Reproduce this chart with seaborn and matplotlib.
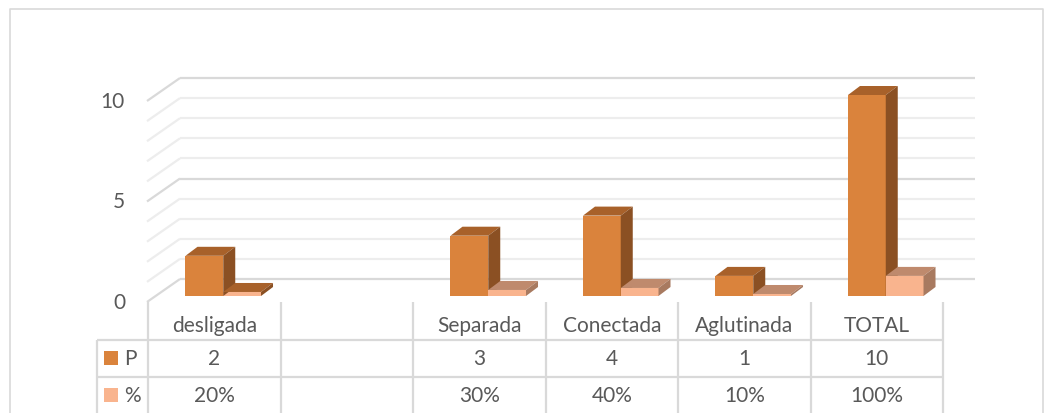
import numpy as np
import pandas as pd
import matplotlib.pyplot as plt
from matplotlib.patches import Polygon, Rectangle
import seaborn as sns

# Data
categories = ["desligada", "", "Separada", "Conectada", "Aglutinada", "TOTAL"]
p_values = [2, None, 3, 4, 1, 10]
pct_values = [0.2, None, 0.3, 0.4, 0.1, 1.0]
series_names = ["P", "%"]
y_ticks = [0, 5, 10]

# Colours (front, top, side)
p_cols = ["#DA833C", "#A8612A", "#8B5023"]
pct_cols = ["#F9B48E", "#BF8A6D", "#A87A60"]
text_col = "#595959"
grid_major = "#D9D9D9"
grid_minor = "#EDEDED"

# Long table for seaborn (empty slot kept through order)
keys = [c if c else "(vacío)" for c in categories]
rows = []
for k, p, q in zip(keys, p_values, pct_values):
    if p is not None:
        rows.append({"cat": k, "serie": "P", "val": p})
        rows.append({"cat": k, "serie": "%", "val": q})
df = pd.DataFrame(rows)

sns.set_style("white")
plt.rcParams["font.family"] = ["Lato", "DejaVu Sans"]

W, H = 1054, 414
fig = plt.figure(figsize=(W / 100, H / 100), dpi=100)

# overlay in pixel coords for table and chart frame
ov = fig.add_axes([0, 0, 1, 1])
ov.set_xlim(0, W)
ov.set_ylim(H, 0)
ov.axis("off")

# bar plane axes
L, B, PW = 157, 297, 795
UX, UY = PW / 6, 20.1
ax = fig.add_axes([L / W, (H - B) / H, PW / W, 10 * UY / H])
ax.set_zorder(2)
sns.barplot(data=df, x="cat", y="val", hue="serie", order=keys,
            hue_order=series_names, palette=[p_cols[0], pct_cols[0]],
            width=0.57, saturation=1, ax=ax, legend=False, linewidth=0)
ax.set_xlim(-0.5, 5.5)
ax.set_ylim(0, 10)
ax.patch.set_visible(False)
for s in ax.spines.values():
    s.set_visible(False)
ax.set_xticks([])
ax.set_yticks([])
ax.set_xlabel("")
ax.set_ylabel("")

# walls: back gridlines and left side diagonals
bx, by = 23 / UX, 17 / UY
fx, fy = -10 / UX, -6 / UY
for v in range(0, 11):
    col = grid_major if v % 5 == 0 else grid_minor
    ax.plot([-0.5 + bx, 5.5 + bx], [v + by, v + by], color=col, lw=1.6,
            zorder=0, clip_on=False, solid_capstyle="butt")
    ax.plot([-0.5 + fx, -0.5 + bx], [v + fy, v + by], color=col, lw=1.6,
            zorder=0, clip_on=False, solid_capstyle="butt")

fs = 15
for v in y_ticks:
    ax.text(-0.5 - 32 / UX, v + fy, str(v), ha="right", va="center",
            fontsize=fs, color=text_col, clip_on=False)

# 3D faces on each bar
ddx, ddy = 12 / UX, 9 / UY
n = len(categories)
for i, bar in enumerate(ax.patches):
    h = bar.get_height()
    if np.isnan(h):
        continue
    cols = p_cols if i < n else pct_cols
    z = 2 if i < n else 3
    bar.set_zorder(z)
    x0 = bar.get_x()
    x1 = x0 + bar.get_width()
    top = Polygon([(x0, h), (x1, h), (x1 + ddx, h + ddy), (x0 + ddx, h + ddy)],
                  closed=True, fc=cols[1], ec="none", zorder=z, clip_on=False)
    side = Polygon([(x1, 0), (x1 + ddx, ddy), (x1 + ddx, h + ddy), (x1, h)],
                   closed=True, fc=cols[2], ec="none", zorder=z, clip_on=False)
    ax.add_patch(top)
    ax.add_patch(side)

# chart frame
ov.plot([10, 10, 1043, 1043], [H + 5, 10, 10, H + 5], color=grid_major, lw=1.2)

# data table
TL, CW = 148, PW / 6
line_kw = dict(color=grid_major, lw=1.6, solid_capstyle="butt")
for i in range(n + 1):
    x = TL + CW * i
    ov.plot([x, x], [303, H], **line_kw)
ov.plot([97, 97], [341, H], **line_kw)
for y in [341, 378]:
    ov.plot([97, TL + CW * n], [y, y], **line_kw)

for i, c in enumerate(categories):
    cx = TL + CW * (i + 0.5)
    ov.text(cx, 326, c, ha="center", va="center", fontsize=fs, color=text_col)
    if p_values[i] is not None:
        ov.text(cx, 359, f"{p_values[i]}", ha="center", va="center",
                fontsize=fs, color=text_col)
        ov.text(cx, 396, f"{pct_values[i]:.0%}", ha="center", va="center",
                fontsize=fs, color=text_col)

for y, name, col in [(359, series_names[0], p_cols[0]), (396, series_names[1], pct_cols[0])]:
    ov.add_patch(Rectangle((104, y - 7), 14, 14, fc=col, ec="none"))
    ov.text(124, y, name, ha="left", va="center", fontsize=fs, color=text_col)

fig.savefig("out.png", dpi=100)
